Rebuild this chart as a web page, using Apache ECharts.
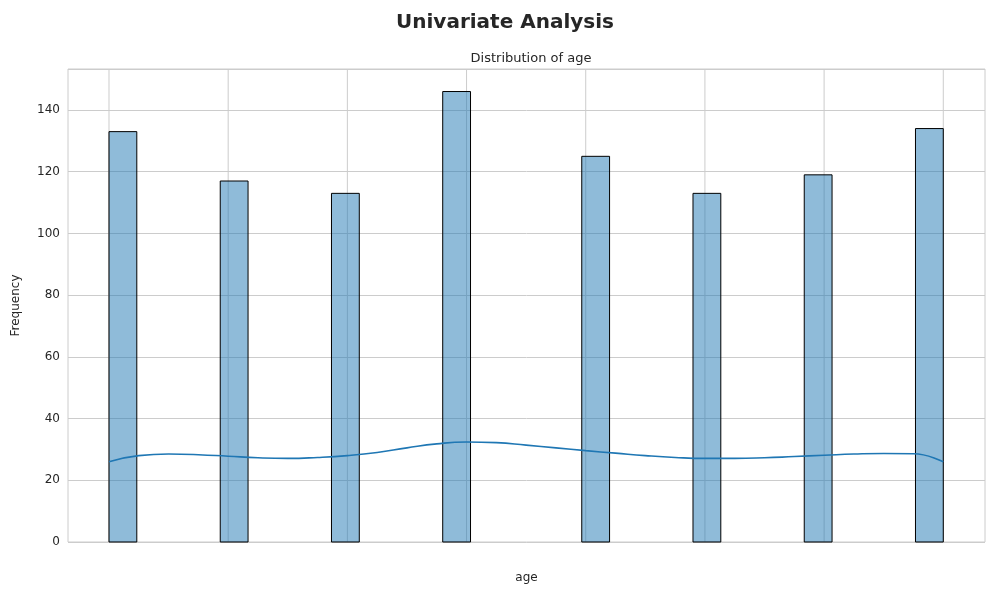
<!DOCTYPE html>
<html>
<head>
<meta charset="utf-8">
<script src="https://cdn.jsdelivr.net/npm/echarts@6/dist/echarts.min.js"></script>
<style>html,body{margin:0;padding:0;background:#fff}#main{width:1000px;height:600px}</style>
</head>
<body>
<div id="main"></div>
<script>
// ages and their counts (one bar per age)
var ages = [17, 18, 19, 20, 21, 22, 23, 24];
var counts = [133, 117, 113, 146, 125, 113, 119, 134];
// kde curve
var kdeX = [17, 17.25, 17.5, 17.75, 18, 18.25, 18.5, 18.75, 19, 19.25, 19.5, 19.75, 20, 20.25, 20.5, 20.75, 21, 21.25, 21.5, 21.75, 22, 22.25, 22.5, 22.75, 23, 23.25, 23.5, 23.75, 24];
var kdeY = [26, 28, 28.5, 28.3, 27.8, 27.3, 27.1, 27.4, 28, 29, 30.5, 31.8, 32.4, 32.2, 31.4, 30.5, 29.6, 28.8, 28, 27.4, 27.1, 27.1, 27.3, 27.7, 28.1, 28.5, 28.7, 28.6, 26];

var xMin = 17, xMax = 24, nBins = 30;
var binW = (xMax - xMin) / nBins;

var bars = ages.map(function (a, i) {
    var idx = Math.min(Math.floor((a - xMin) / binW), nBins - 1);
    var left = xMin + idx * binW;
    return [left, left + binW, counts[i]];
});

var myChart = echarts.init(document.getElementById('main'));
var axisText = { color: '#262626', fontSize: 12, fontFamily: 'DejaVu Sans' };

var option = {
    animation: false,
    title: [
        { text: 'Univariate Analysis', left: 500, top: 8, textAlign: 'center',
          textStyle: { fontSize: 20, fontWeight: 'bold', color: '#262626', fontFamily: 'DejaVu Sans' } },
        { text: 'Distribution of age', left: 526, top: 47, textAlign: 'center',
          textStyle: { fontSize: 13, fontWeight: 'normal', color: '#262626', fontFamily: 'DejaVu Sans' } }
    ],
    grid: { left: 68, right: 15, top: 69, bottom: 58, show: true, borderColor: '#cccccc', borderWidth: 1 },
    xAxis: {
        type: 'value', min: 16.656, max: 24.35, interval: 1,
        name: 'age', nameLocation: 'middle', nameGap: 30,
        nameTextStyle: axisText,
        axisLine: { show: false }, axisTick: { show: false },
        axisLabel: Object.assign({ margin: 10, formatter: function (v) {
            return (Math.abs(v - Math.round(v)) < 1e-6 && v >= 17 && v <= 24) ? String(Math.round(v)) : '';
        }, showMinLabel: false, showMaxLabel: false }, axisText),
        splitLine: { show: false }
    },
    yAxis: {
        type: 'value', min: 0, max: 153.3, interval: 20,
        name: 'Frequency', nameLocation: 'middle', nameGap: 46,
        nameTextStyle: axisText,
        axisLine: { show: false }, axisTick: { show: false },
        axisLabel: Object.assign({ showMaxLabel: false }, axisText),
        splitLine: { lineStyle: { color: '#cccccc' } }
    },
    series: [
        {
            // vertical grid lines at integer ages
            type: 'custom', silent: true, z: 0,
            data: ages.map(function (a) { return [a]; }),
            renderItem: function (params, api) {
                var p0 = api.coord([api.value(0), 0]);
                var p1 = api.coord([api.value(0), 153.3]);
                return { type: 'line', shape: { x1: p0[0], y1: p0[1], x2: p1[0], y2: p1[1] },
                         style: { stroke: '#cccccc', lineWidth: 1 } };
            }
        },
        {
            type: 'custom', z: 2,
            data: bars,
            renderItem: function (params, api) {
                var p0 = api.coord([api.value(0), api.value(2)]);
                var p1 = api.coord([api.value(1), 0]);
                return { type: 'rect',
                         shape: { x: p0[0], y: p0[1], width: p1[0] - p0[0], height: p1[1] - p0[1] },
                         style: { fill: 'rgba(31,119,180,0.5)', stroke: '#000', lineWidth: 1 } };
            }
        },
        {
            type: 'line', z: 3, smooth: true, showSymbol: false,
            data: kdeX.map(function (x, i) { return [x, kdeY[i]]; }),
            lineStyle: { color: '#1f77b4', width: 1.6 }
        }
    ]
};

myChart.setOption(option);
</script>
</body>
</html>
